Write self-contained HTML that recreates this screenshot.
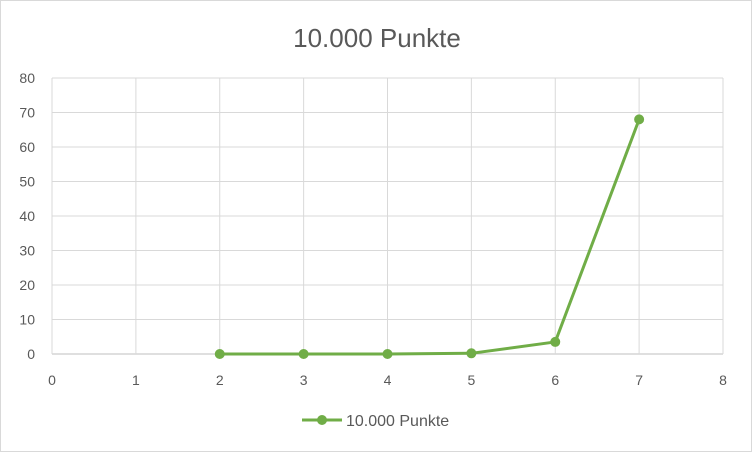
<!DOCTYPE html>
<html><head><meta charset="utf-8"><style>
html,body{margin:0;padding:0;background:#fff;}
svg{display:block;font-family:"Liberation Sans",sans-serif;}
</style></head><body>
<svg id="chart" width="752" height="452" viewBox="0 0 752 452" xmlns="http://www.w3.org/2000/svg">
<rect x="0.5" y="0.5" width="751" height="451" fill="#fff" stroke="#d9d9d9"/>
<text x="377" y="47" text-anchor="middle" font-size="26" fill="#595959">10.000 Punkte</text>
<g id="grid"></g><g id="axes"></g><g id="series"></g>
<g>
<line x1="302" y1="420" x2="342" y2="420" stroke="#70ad47" stroke-width="3"/>
<circle cx="322" cy="420" r="5" fill="#70ad47"/>
<text x="346" y="426" font-size="16" fill="#595959">10.000 Punkte</text>
</g>
</svg>
<script>
const xValues=[2,3,4,5,6,7];
const yValues=[0,0,0,0.2,3.5,68];
const xTicks=[0,1,2,3,4,5,6,7,8];
const yTicks=[0,10,20,30,40,50,60,70,80];
const NS="http://www.w3.org/2000/svg";
const X0=52,X1=723,Y0=354,Y1=78;
const sx=v=>X0+(v-0)/(8-0)*(X1-X0);
const sy=v=>Y0-(v-0)/(80-0)*(Y0-Y1);
function mk(t,a,p){const e=document.createElementNS(NS,t);for(const k in a)e.setAttribute(k,a[k]);p.appendChild(e);return e;}
const grid=document.getElementById('grid'),axes=document.getElementById('axes'),ser=document.getElementById('series');
yTicks.forEach(v=>{
 const l=mk('line',{x1:X0,x2:X1,y1:sy(v),y2:sy(v),stroke:v===0?'#bfbfbf':'#d9d9d9','stroke-width':1},grid);
 
 
 const t=mk('text',{x:X0-17,y:sy(v)+5,'text-anchor':'end','font-size':14,fill:'#595959'},axes);
 t.textContent=v;
 
 
});
xTicks.forEach(v=>{
 const l=mk('line',{x1:sx(v),x2:sx(v),y1:Y1,y2:Y0,stroke:'#d9d9d9','stroke-width':1},grid);
 
 
 const t=mk('text',{x:sx(v),y:Y0+31,'text-anchor':'middle','font-size':14,fill:'#595959'},axes);
 t.textContent=v;
 
 
});
const pts=xValues.map((x,i)=>sx(x)+','+sy(yValues[i])).join(' ');
const pl=mk('polyline',{points:pts,fill:'none',stroke:'#70ad47','stroke-width':3,'stroke-linejoin':'round'},ser);


xValues.forEach((x,i)=>{
 const c=mk('circle',{cx:sx(x),cy:sy(yValues[i]),r:5,fill:'#70ad47'},ser);
 
 
});
</script>
</body></html>
